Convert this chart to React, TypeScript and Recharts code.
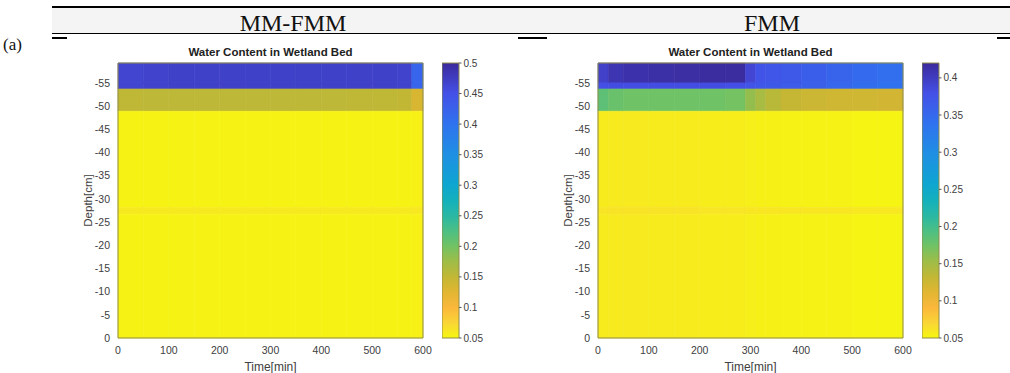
import { ComposedChart, XAxis, YAxis, ReferenceArea, Scatter } from 'recharts'

// depth layers, top of the bed to the bottom (cm)
const depthEdges = [-59.3, -55, -53.7, -48.9, -28.2, -26.7, 0]
const depthTicks = [-55, -50, -45, -40, -35, -30, -25, -20, -15, -10, -5, 0]
const timeTicks = [0, 100, 200, 300, 400, 500, 600]

// MM-FMM panel
const mmTimeEdges = [0, 50, 100, 150, 200, 250, 300, 350, 400, 450, 500, 550, 578, 600]
const mmLayerA1 = [0.465, 0.468, 0.47, 0.47, 0.47, 0.47, 0.47, 0.47, 0.47, 0.47, 0.47, 0.468, 0.42]
const mmLayerA2 = [0.465, 0.468, 0.47, 0.47, 0.47, 0.47, 0.47, 0.47, 0.47, 0.47, 0.47, 0.468, 0.42]
const mmLayerB = [0.152, 0.153, 0.153, 0.153, 0.153, 0.153, 0.153, 0.153, 0.153, 0.152, 0.152, 0.15, 0.132]
const mmLayerC = [0.053, 0.053, 0.053, 0.053, 0.053, 0.053, 0.053, 0.053, 0.053, 0.053, 0.053, 0.053, 0.054]
const mmLayerL = [0.06, 0.06, 0.06, 0.06, 0.06, 0.06, 0.06, 0.06, 0.06, 0.06, 0.06, 0.06, 0.061]
const mmLayerD = [0.053, 0.053, 0.053, 0.053, 0.053, 0.053, 0.053, 0.053, 0.053, 0.053, 0.053, 0.053, 0.054]
const mmCbTicks = [0.05, 0.1, 0.15, 0.2, 0.25, 0.3, 0.35, 0.4, 0.45, 0.5]

// FMM panel
const fmmTimeEdges = [0, 20, 50, 100, 150, 200, 250, 290, 310, 330, 360, 400, 450, 500, 550, 600]
const fmmLayerA1 = [0.395, 0.408, 0.412, 0.414, 0.416, 0.418, 0.418, 0.39, 0.376, 0.372, 0.368, 0.362, 0.355, 0.348, 0.342]
const fmmLayerA2 = [0.38, 0.382, 0.382, 0.382, 0.382, 0.382, 0.38, 0.375, 0.37, 0.368, 0.365, 0.36, 0.352, 0.345, 0.34]
const fmmLayerB = [0.185, 0.178, 0.175, 0.175, 0.175, 0.175, 0.172, 0.158, 0.147, 0.137, 0.13, 0.126, 0.124, 0.123, 0.122]
const fmmLayerC = [0.057, 0.058, 0.058, 0.057, 0.057, 0.056, 0.056, 0.055, 0.054, 0.054, 0.053, 0.053, 0.053, 0.052, 0.052]
const fmmLayerL = [0.061, 0.062, 0.062, 0.062, 0.062, 0.061, 0.061, 0.06, 0.06, 0.06, 0.06, 0.06, 0.06, 0.059, 0.059]
const fmmLayerD = [0.057, 0.058, 0.058, 0.057, 0.057, 0.056, 0.056, 0.055, 0.054, 0.054, 0.053, 0.053, 0.053, 0.052, 0.052]
const fmmCbTicks = [0.05, 0.1, 0.15, 0.2, 0.25, 0.3, 0.35, 0.4]

// reversed parula-like colormap, 0 = low (yellow), 1 = high (indigo)
const cmapStops: [number, string][] = [
  [0.0, '#f6f70f'],
  [0.05, '#f9d834'],
  [0.11, '#fbb83b'],
  [0.17, '#e0b632'],
  [0.22, '#c3b734'],
  [0.28, '#9dbd48'],
  [0.33, '#74c262'],
  [0.39, '#4cbf84'],
  [0.44, '#2cb9a2'],
  [0.5, '#14b0bc'],
  [0.56, '#0ea5d1'],
  [0.67, '#1f8fe3'],
  [0.78, '#2f72ef'],
  [0.89, '#4450e6'],
  [1.0, '#3b2a9c'],
]

const FONT = '"Liberation Sans", Arial, sans-serif'
const SERIF = '"Liberation Serif", "Times New Roman", serif'
const TXT = '#404040'
const EDGE = '#8f8c4a'

function rgb(h: string) {
  return [parseInt(h.slice(1, 3), 16), parseInt(h.slice(3, 5), 16), parseInt(h.slice(5, 7), 16)]
}

function colorFor(v: number, min: number, max: number) {
  const u = Math.max(0, Math.min(1, (v - min) / (max - min)))
  for (let i = 1; i < cmapStops.length; i++) {
    const [u1, c1] = cmapStops[i]
    const [u0, c0] = cmapStops[i - 1]
    if (u <= u1) {
      const f = (u - u0) / (u1 - u0)
      const a = rgb(c0)
      const b = rgb(c1)
      const c = a.map((x, k) => Math.round(x + (b[k] - x) * f))
      return `rgb(${c[0]},${c[1]},${c[2]})`
    }
  }
  return cmapStops[cmapStops.length - 1][1]
}

interface PanelProps {
  left: number
  timeEdges: number[]
  layers: number[][]
  cbMax: number
  cbTicks: number[]
  gradId: string
}

function Panel({ left, timeEdges, layers, cbMax, cbTicks, gradId }: PanelProps) {
  const cells: { t0: number; t1: number; d0: number; d1: number; v: number }[] = []
  layers.forEach((row, li) => {
    row.forEach((v, ci) => {
      cells.push({ t0: timeEdges[ci], t1: timeEdges[ci + 1], d0: depthEdges[li], d1: depthEdges[li + 1], v })
    })
  })
  const centers = cells.map((c) => ({ t: (c.t0 + c.t1) / 2, d: (c.d0 + c.d1) / 2 }))
  const tickStyle = { fontSize: 10.5, fill: TXT, stroke: 'none', fontFamily: FONT }

  return (
    <>
      <div
        style={{
          position: 'absolute',
          left: left + 60,
          top: 46,
          width: 305,
          textAlign: 'center',
          fontFamily: FONT,
          fontWeight: 'bold',
          fontSize: 11.5,
          color: '#222',
        }}
      >
        Water Content in Wetland Bed
      </div>
      <div style={{ position: 'absolute', left, top: 58 }}>
        <ComposedChart width={385} height={315} margin={{ top: 5, right: 20, bottom: 0, left: 0 }} data={centers}>
          <XAxis
            type="number"
            dataKey="t"
            domain={[0, 600]}
            ticks={timeTicks}
            interval={0}
            height={35}
            tickLine={false}
            tickSize={0}
            tickMargin={9}
            axisLine={false}
            tick={tickStyle}
            label={{ value: 'Time[min]', position: 'insideBottom', offset: 2, fontSize: 12, fill: TXT, fontFamily: FONT }}
          />
          <XAxis xAxisId="top" type="number" orientation="top" mirror domain={[0, 600]} ticks={timeTicks} interval={0} height={0} tick={false} tickSize={3} axisLine={false} tickLine={{ stroke: '#444' }} />
          <YAxis
            type="number"
            dataKey="d"
            domain={[-59.3, 0]}
            reversed
            ticks={depthTicks}
            interval={0}
            width={60}
            tickLine={false}
            tickSize={0}
            tickMargin={8}
            axisLine={false}
            tick={tickStyle}
            label={{ value: 'Depth[cm]', angle: -90, position: 'insideLeft', offset: 30, fontSize: 11.5, fill: TXT, fontFamily: FONT, style: { textAnchor: 'middle' } }}
          />
          <YAxis yAxisId="right" type="number" orientation="right" mirror domain={[-59.3, 0]} reversed ticks={depthTicks} interval={0} width={0} tick={false} tickSize={3} axisLine={false} tickLine={{ stroke: '#444' }} />
          <Scatter dataKey="d" fill="none" shape={() => <g />} isAnimationActive={false} />
          {cells.map((c, i) => {
            const col = colorFor(c.v, 0.05, cbMax)
            return (
              <ReferenceArea
                key={i}
                x1={c.t0}
                x2={c.t1}
                y1={c.d0}
                y2={c.d1}
                fill={col}
                fillOpacity={1}
                stroke={col}
                strokeWidth={0.6}
              />
            )
          })}
          <ReferenceArea x1={0} x2={600} y1={-59.3} y2={0} fill="none" stroke={EDGE} strokeWidth={1} />
        </ComposedChart>
      </div>
      <div style={{ position: 'absolute', left: left + 384, top: 58 }}>
        <ComposedChart
          width={62}
          height={290}
          margin={{ top: 5, right: 0, bottom: 10, left: 0 }}
          data={[{ x: 0, y: 0.05 }, { x: 1, y: cbMax }]}
        >
          <defs>
            <linearGradient id={gradId} x1="0" y1="1" x2="0" y2="0">
              {cmapStops.map(([u, c]) => (
                <stop key={u} offset={u} stopColor={c} />
              ))}
            </linearGradient>
          </defs>
          <XAxis type="number" dataKey="x" domain={[0, 1]} hide />
          <YAxis
            type="number"
            dataKey="y"
            orientation="right"
            domain={[0.05, cbMax]}
            ticks={cbTicks}
            interval={0}
            width={45}
            tickSize={2.5}
            tickMargin={2}
            tickLine={{ stroke: '#555' }}
            axisLine={false}
            tick={{ fontSize: 10, fill: TXT, stroke: 'none', fontFamily: FONT, textAnchor: 'start' }}
          />
          <Scatter dataKey="y" fill="none" shape={() => <g />} isAnimationActive={false} />
          <ReferenceArea x1={0} x2={1} y1={0.05} y2={cbMax} fill={`url(#${gradId})`} fillOpacity={1} stroke={EDGE} strokeWidth={1} />
        </ComposedChart>
      </div>
    </>
  )
}

export default function App() {
  return (
    <div style={{ position: 'absolute', left: 0, top: 0, width: 1010, height: 373, background: '#fff', overflow: 'hidden' }}>
      <svg width={1010} height={60} style={{ position: 'absolute', left: 0, top: 0 }}>
        <rect x={52} y={7} width={958} height={26} fill="#f4f4f4" />
        <rect x={52} y={6} width={958} height={2} fill="#000" />
        <rect x={52} y={33} width={958} height={1} fill="#000" />
        <rect x={52} y={37} width={15} height={2} fill="#000" />
        <rect x={518} y={37} width={29} height={2} fill="#000" />
        <rect x={997} y={37} width={13} height={2} fill="#000" />
        <text x={293} y={31} textAnchor="middle" fontFamily={SERIF} fontSize={24} fill="#111">
          MM-FMM
        </text>
        <text x={772} y={31} textAnchor="middle" fontFamily={SERIF} fontSize={24} fill="#111">
          FMM
        </text>
        <text x={3} y={50} fontFamily={SERIF} fontSize={17} fill="#111">
          (a)
        </text>
      </svg>
      <Panel
        left={58}
        timeEdges={mmTimeEdges}
        layers={[mmLayerA1, mmLayerA2, mmLayerB, mmLayerC, mmLayerL, mmLayerD]}
        cbMax={0.5}
        cbTicks={mmCbTicks}
        gradId="cbMM"
      />
      <Panel
        left={538}
        timeEdges={fmmTimeEdges}
        layers={[fmmLayerA1, fmmLayerA2, fmmLayerB, fmmLayerC, fmmLayerL, fmmLayerD]}
        cbMax={0.42}
        cbTicks={fmmCbTicks}
        gradId="cbFMM"
      />
    </div>
  )
}
